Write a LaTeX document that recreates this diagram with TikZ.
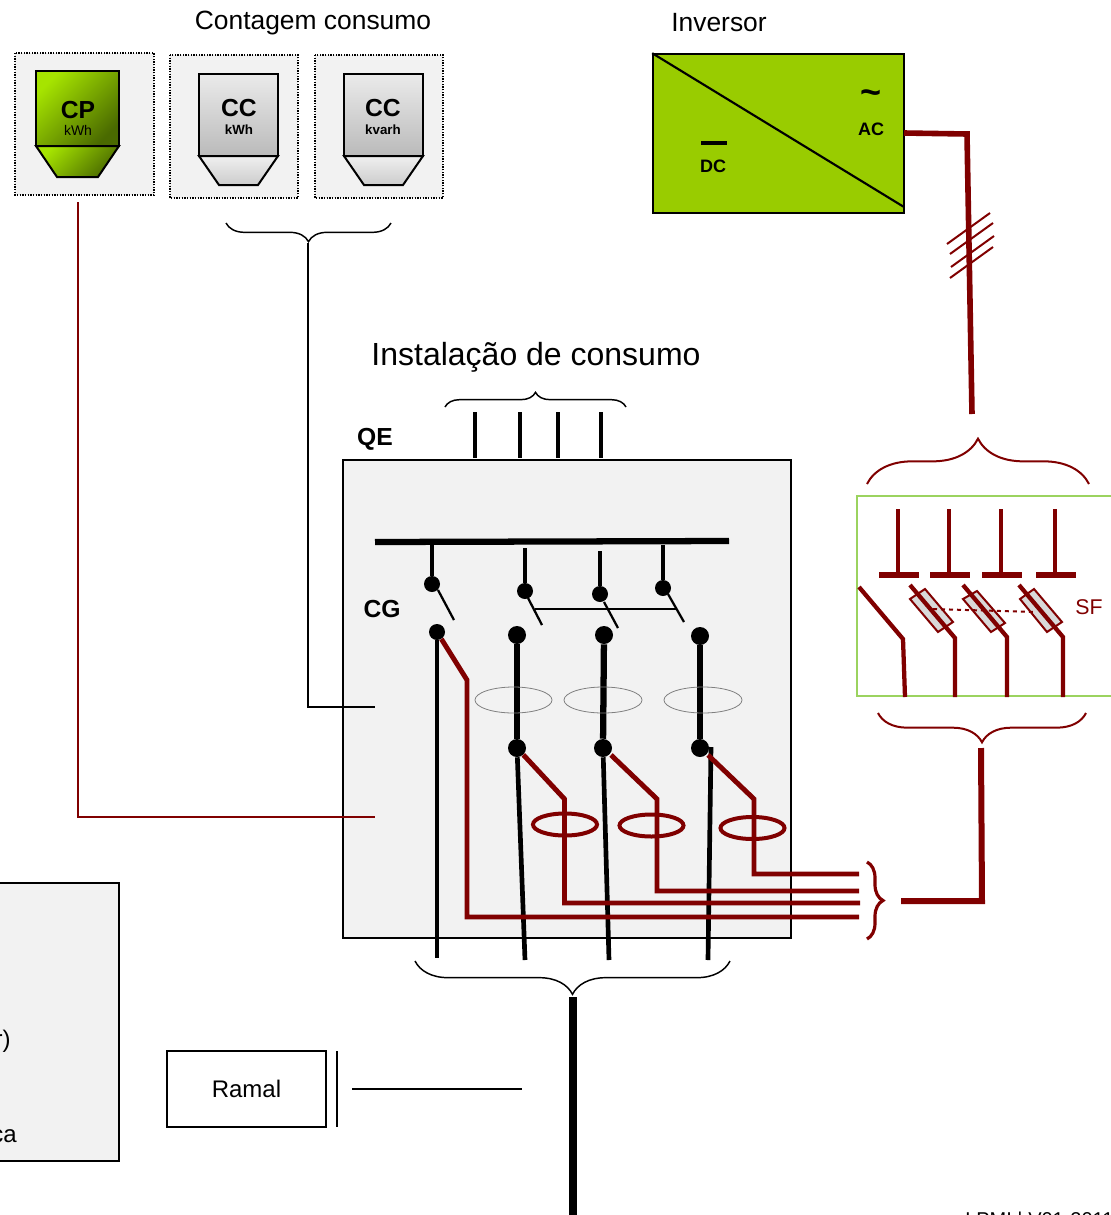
\documentclass[tikz,border=0pt]{standalone}
\usepackage{fontspec}
\setmainfont{Liberation Sans}
\usepackage{tikz}
\usetikzlibrary{decorations.pathreplacing,positioning,calc}
\definecolor{wirered}{HTML}{800000}
\definecolor{panelgray}{HTML}{F2F2F2}
\definecolor{invgreen}{HTML}{99CC00}
\definecolor{sfgreen}{HTML}{9BD35F}
\definecolor{cplight}{HTML}{A6E400}
\definecolor{cpdark}{HTML}{4A6A00}

\begin{document}
\begin{tikzpicture}[x=0.75pt, y=-0.75pt, line join=miter, inner sep=0pt]
\tikzstyle{title}=[font=\fontsize{19.8}{22}\selectfont]
\tikzstyle{tag}=[font=\fontsize{18.5}{22}\selectfont\bfseries]
\tikzstyle{small}=[font=\fontsize{13.5}{16}\selectfont\bfseries]
\tikzstyle{plain}=[font=\fontsize{18}{22}\selectfont]
\tikzstyle{panel}=[draw=black,fill=panelgray,line width=1.5pt]
\tikzstyle{dotbox}=[draw=black,fill=panelgray,line width=1pt,densely dotted]
\tikzstyle{wire}=[draw=black,line width=2.3pt]
\tikzstyle{feed}=[draw=black,line width=3.5pt]
\tikzstyle{heavy}=[draw=black,line width=4.7pt]
\tikzstyle{sense}=[draw=wirered,line width=3.7pt]
\tikzstyle{hatch}=[draw=wirered,line width=1.5pt]
\tikzstyle{dot}=[circle,fill=black,minimum size=12pt]
\tikzstyle{bigdot}=[circle,fill=black,minimum size=13.5pt]
\tikzstyle{ring}=[draw=gray,line width=0.6pt]
\tikzstyle{cring}=[draw=wirered,line width=3pt]
\tikzstyle{fuse}=[draw=wirered,fill=black!15,line width=1.5pt]
\tikzstyle{blackbrace}=[draw=black,line width=1.1pt,decorate]
\tikzstyle{redbrace}=[draw=wirered,line width=1.5pt,decorate]
\tikzstyle{cpbody}=[draw=black,line width=1.5pt,left color=cplight,right color=cpdark,shading angle=45]
\tikzstyle{ccbody}=[draw=black,line width=1.5pt,top color=black!8,bottom color=black!27]
\tikzstyle{cchood}=[draw=black,line width=1.5pt,top color=black!6,bottom color=black!20]

\useasboundingbox (0,0) rectangle (1111,1215);
\clip (0,0) rectangle (1111,1215);

% meters
\draw[dotbox] (15,53) rectangle (154,195);
\draw[dotbox] (170,55) rectangle (298,198);
\draw[dotbox] (315,55) rectangle (443,198);
\path[cpbody] (36,71) rectangle (119,146);
\path[cpbody] (36,146) -- (119,146) -- (98,177) -- (57,177) -- cycle;
\path[ccbody] (199,74) rectangle (278,156);
\path[cchood] (199,156) -- (278,156) -- (258,185) -- (219,185) -- cycle;
\path[ccbody] (344,74) rectangle (423,156);
\path[cchood] (344,156) -- (423,156) -- (403,185) -- (364,185) -- cycle;
\node[tag]  (cpname)  at (78,110)  {CP};
\node[font=\fontsize{10.5}{12}\selectfont] (cpunit) at (78,130) {kWh};
\node[tag]  (ccaname) at (239,108) {CC};
\node[font=\fontsize{10}{12}\selectfont\bfseries] (ccaunit) at (239,130) {kWh};
\node[tag]  (ccbname) at (383,108) {CC};
\node[font=\fontsize{10}{12}\selectfont\bfseries] (ccbunit) at (383,130) {kvarh};
\node[title] (contagem) at (313,23) {Contagem consumo};

% inverter
\node[title] (inversor) at (719,23) {Inversor};
\node[draw=black,fill=invgreen,line width=1.5pt,minimum width=188pt,minimum height=119pt] (inv) at (778.5,133.5) {};
\coordinate (invdiag) at (904,207);
\draw[wire,line width=1.6pt] (inv.north west) -- (invdiag);
\node[small,font=\fontsize{13.5}{16}\selectfont\bfseries] (ac) at (871,129) {AC};
\node[font=\fontsize{27}{30}\selectfont\bfseries] (tilde) at (871,97) {\char`\~};
\node[small] (dc) at (713,166) {DC};
\coordinate (dca) at (701,143);
\coordinate (dcb) at (727,143);
\draw[wire] (dca) -- (dcb);

% AC line to the protection
\coordinate (acelbow) at (967,134);
\coordinate (acend) at (972,414);
\draw[draw=wirered,line width=4.2pt] (904,133) -- (acelbow) -- (acend);
\draw[hatch] (990,213) -- (947,244);
\draw[hatch] (993,223) -- (950,254);
\draw[hatch] (994,236) -- (951,267);
\draw[hatch] (993,247) -- (950,278);

% protection
\draw[draw=sfgreen,line width=1.5pt] (1115,496) -- (857,496) -- (857,696) -- (1115,696);
\draw[redbrace,decoration={brace,amplitude=34pt}] (867,484) -- (1089,484);
\draw[redbrace,decoration={brace,amplitude=22pt}] (1086,713) -- (878,713);
\draw[sense,line width=3.2pt] (898,509) -- (898,575);
\draw[sense,line width=3.2pt] (949,509) -- (949,575);
\draw[sense,line width=3.2pt] (1001,509) -- (1001,575);
\draw[sense,line width=3.2pt] (1055,509) -- (1055,575);
\draw[draw=wirered,line width=4pt] (879,575) -- (919,575);
\draw[draw=wirered,line width=4pt] (930,575) -- (970,575);
\draw[draw=wirered,line width=4pt] (982,575) -- (1022,575);
\draw[draw=wirered,line width=4pt] (1036,575) -- (1076,575);
\draw[sense,line width=3.2pt] (859,587) -- (903,639) -- (905,697);
\path[fuse] (925,589) -- (953,622) -- (938,632) -- (910,599) -- cycle;
\path[fuse] (977,591) -- (1005,623) -- (991,632) -- (963,599) -- cycle;
\path[fuse] (1034,589) -- (1062,622) -- (1047,632) -- (1020,599) -- cycle;
\draw[sense,line width=3.2pt] (910,585) -- (955,638) -- (955,697);
\draw[sense,line width=3.2pt] (963,585) -- (1007,637) -- (1007,697);
\draw[sense,line width=3.2pt] (1019,585) -- (1063,637) -- (1063,697);
\draw[draw=wirered,line width=1.5pt,dashed] (933,609) -- (1034,612);
\node[plain,font=\fontsize{16}{18}\selectfont,text=wirered] (sf) at (1089,607) {SF};

% consumer board
\draw[panel] (343,460) rectangle (791,938);
\node[title,font=\fontsize{24}{28}\selectfont] (instalacao) at (536,357) {Instalação de consumo};
\node[tag] (qe) at (375,439) {QE};
\node[tag] (cg) at (382,609) {CG};
\draw[blackbrace,decoration={brace,amplitude=11pt}] (445,407) -- (626,407);
\draw[wire] (475,412) -- (475,458);
\draw[wire] (520,412) -- (520,458);
\draw[wire] (558,412) -- (558,458);
\draw[wire] (601,412) -- (601,458);
\coordinate (busl) at (375,542);
\coordinate (busr) at (729,541);
\draw[heavy] (busl) -- (busr);

% switches
\node[dot] (ta) at (432,584) {};
\node[dot] (tb) at (525,591) {};
\node[dot] (tc) at (600,594) {};
\node[dot] (td) at (663,588) {};
\coordinate (bua) at (432,545);
\coordinate (bub) at (525,548);
\coordinate (buc) at (600,551);
\coordinate (bud) at (663,545);
\draw[wire] (bua) -- (ta);
\draw[wire] (bub) -- (tb);
\draw[wire] (buc) -- (tc);
\draw[wire] (bud) -- (td);
\draw[wire,line width=1.7pt] (438,590) -- (454,620);
\draw[wire,line width=1.7pt] (528,598) -- (542,625);
\draw[wire,line width=1.7pt] (604,602) -- (618,628);
\draw[wire,line width=1.7pt] (668,594) -- (684,622);
\draw[draw=black,line width=0.8pt] (535,609) -- (677,609);
\node[dot] (ma) at (437,632) {};
\node[bigdot] (mb) at (517,635) {};
\node[bigdot] (mc) at (604,635) {};
\node[bigdot] (md) at (700,636) {};
\node[bigdot] (la) at (517,748) {};
\node[bigdot] (lb) at (603,748) {};
\node[bigdot] (lc) at (700,748) {};
\draw[heavy] (mb) -- (la);
\draw[heavy] (mc) -- (lb);
\draw[heavy] (md) -- (lc);
\draw[ring] (513.5,700) ellipse (38.5 and 13);
\draw[ring] (603,700) ellipse (39 and 13);
\draw[ring] (703,700) ellipse (39 and 13);

% outgoing conductors
\coordinate (oa) at (437,958);
\coordinate (ob) at (525,960);
\coordinate (oc) at (609,960);
\coordinate (od) at (708,960);
\draw[feed] (ma) -- (oa);
\draw[feed] (la) -- (ob);
\draw[feed] (lb) -- (oc);
\draw[feed] (711,747) -- (od);
\draw[blackbrace,decoration={brace,amplitude=25pt}] (730,961) -- (415,961);
\coordinate (maintop) at (573,997);
\coordinate (mainend) at (573,1215);
\draw[draw=black,line width=6.7pt] (maintop) -- (mainend);

% measuring conductors
\draw[sense] (ma) -- (467,680) -- (467,917) -- (859,917);
\draw[sense] (la) -- (564.5,799) -- (564.5,903) -- (860,903);
\draw[sense] (611,755) -- (657,799) -- (657,891) -- (859,891);
\draw[sense] (708,755) -- (754,799) -- (754,874) -- (859,874);
\draw[cring] (565,824.5) ellipse (32 and 11);
\draw[cring] (651.5,825.5) ellipse (32 and 11);
\draw[cring] (752.5,828) ellipse (32 and 11);
\draw[draw=wirered,line width=2.4pt,decorate,decoration={brace,amplitude=12pt}] (867,862) -- (867,939);
\coordinate (sfin) at (981,748);
\coordinate (sfcorner) at (982,901);
\coordinate (sfout) at (901,901);
\draw[draw=wirered,line width=4.5pt] (sfin) -- (sfcorner) -- (sfout);

% links from meters
\coordinate (cpdown) at (78,202);
\coordinate (cpcorner) at (78,817);
\coordinate (cpin) at (375,817);
\draw[draw=wirered,line width=1.9pt] (cpdown) -- (cpcorner) -- (cpin);
\coordinate (ccdown) at (308,243);
\coordinate (cccorner) at (308,707);
\coordinate (ccin) at (375,707);
\draw[draw=black,line width=1.9pt] (ccdown) -- (cccorner) -- (ccin);
\draw[blackbrace,decoration={brace,amplitude=14pt}] (391,223) -- (226,223);

% legend and service line
\draw[panel] (-10,883) rectangle (119,1161);
\node[plain,anchor=east] (legendr) at (11,1041) {r)};
\node[plain,anchor=east] (legendca) at (17,1136) {ca};
\node[draw=black,line width=1.5pt,minimum width=119pt,minimum height=57pt,plain] (ramal) at (246.5,1089) {Ramal};
\coordinate (ramtop) at (337,1051);
\coordinate (rambot) at (337,1127);
\draw[wire,line width=1.5pt] (ramtop) -- (rambot);
\coordinate (rama) at (352,1089);
\coordinate (ramb) at (522,1089);
\draw[wire,line width=1.5pt] (rama) -- (ramb);
\node[plain,font=\fontsize{15}{18}\selectfont,anchor=north west] (ref) at (965,1212) {LPMI | V01-2011};
\end{tikzpicture}
\end{document}
